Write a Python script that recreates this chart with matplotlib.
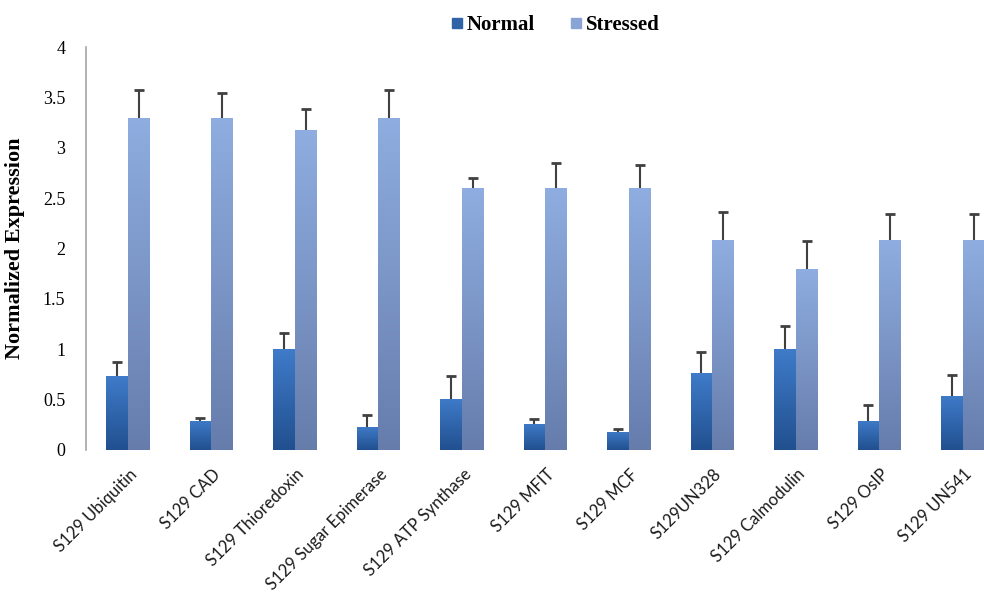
import numpy as np
import matplotlib
matplotlib.use("Agg")
import matplotlib.pyplot as plt
from matplotlib.colors import LinearSegmentedColormap
from matplotlib.lines import Line2D

genes = ["S129 Ubiquitin", "S129 CAD", "S129 Thioredoxin", "S129 Sugar Epimerase",
         "S129 ATP Synthase", "S129 MFIT", "S129 MCF", "S129UN328",
         "S129 Calmodulin", "S129 OsIP", "S129 UN541"]
normal = [0.73, 0.29, 1.00, 0.23, 0.51, 0.26, 0.18, 0.76, 1.00, 0.29, 0.54]
normal_err = [0.14, 0.03, 0.16, 0.12, 0.22, 0.05, 0.03, 0.21, 0.23, 0.16, 0.20]
stressed = [3.30, 3.30, 3.18, 3.30, 2.60, 2.60, 2.60, 2.08, 1.80, 2.08, 2.08]
stressed_err = [0.27, 0.24, 0.20, 0.27, 0.10, 0.25, 0.23, 0.28, 0.27, 0.26, 0.26]
yticks = [0, 0.5, 1, 1.5, 2, 2.5, 3, 3.5, 4]
ytick_labels = ["0", "0.5", "1", "1.5", "2", "2.5", "3", "3.5", "4"]

W, H = 984, 598
fig = plt.figure(figsize=(W / 100, H / 100), dpi=100)
ax = fig.add_axes([86 / W, (H - 450) / H, 918.5 / W, 403 / H])

x = np.arange(len(genes))
bw = 0.258

# bottom -> top gradients
cmap_normal = LinearSegmentedColormap.from_list("normal", ["#21508f", "#3f7bc9"])
cmap_stressed = LinearSegmentedColormap.from_list("stressed", ["#667dac", "#8fade0"])
grad = np.linspace(0, 1, 256).reshape(-1, 1)


def gradient_bars(xpos, vals, cmap, base):
    bars = ax.bar(xpos, vals, bw, color=base, edgecolor="none", zorder=2)
    for b in bars:
        x0, y0 = b.get_x(), b.get_y()
        w, h = b.get_width(), b.get_height()
        im = ax.imshow(grad, cmap=cmap, origin="lower", aspect="auto",
                       extent=[x0, x0 + w, y0, y0 + h], zorder=2.5)
        im.set_clip_path(b)
    return bars


gradient_bars(x - bw / 2, normal, cmap_normal, "#2f63a8")
gradient_bars(x + bw / 2, stressed, cmap_stressed, "#7c96c8")

# upper error bars only
for xpos, vals, errs in [(x - bw / 2, normal, normal_err), (x + bw / 2, stressed, stressed_err)]:
    vals = np.array(vals)
    errs = np.array(errs)
    ax.errorbar(xpos, vals, yerr=[np.zeros_like(errs), errs], fmt="none",
                ecolor="#404040", elinewidth=1.5, capsize=0, zorder=3)
    ax.plot(xpos, vals + errs, linestyle="none", marker="_", markersize=7.5,
            markeredgewidth=2, color="#404040", zorder=3)

ax.set_xlim(-0.5, len(genes) - 0.5)
ax.set_ylim(0, 4)
ax.set_yticks(yticks)
ax.set_yticklabels(ytick_labels, fontfamily="Liberation Serif", fontsize=13)
ax.tick_params(axis="y", length=0, pad=15)
ax.set_xticks([])
for s in ["top", "right", "bottom"]:
    ax.spines[s].set_visible(False)
ax.spines["left"].set_color("#a6a6a6")
ax.spines["left"].set_linewidth(1.2)

ax.set_ylabel("Normalized Expression", fontfamily="Liberation Serif",
              fontweight="bold", fontsize=16)
ax.yaxis.set_label_coords(-0.066, 0.5)

for xi, lab in zip(x, genes):
    ax.annotate(lab, xy=(xi, 0), xycoords=("data", "axes fraction"),
                xytext=(7, -22), textcoords="offset pixels",
                rotation=45, rotation_mode="anchor", ha="right", va="center",
                fontfamily="Lato", fontsize=12, color="#1a1a1a")

handles = [Line2D([], [], linestyle="none", marker="s", markersize=7.5,
                  color="#2f63a8"),
           Line2D([], [], linestyle="none", marker="s", markersize=7.5,
                  color="#8aa4d6")]
fig.legend(handles, ["Normal", "Stressed"], loc="center",
           bbox_to_anchor=(554 / W, (H - 25) / H), ncol=2, frameon=False,
           prop={"family": "Liberation Serif", "weight": "bold", "size": 15},
           handletextpad=0.05, columnspacing=1.6, handlelength=0.8)

fig.savefig("out.png", dpi=100)
